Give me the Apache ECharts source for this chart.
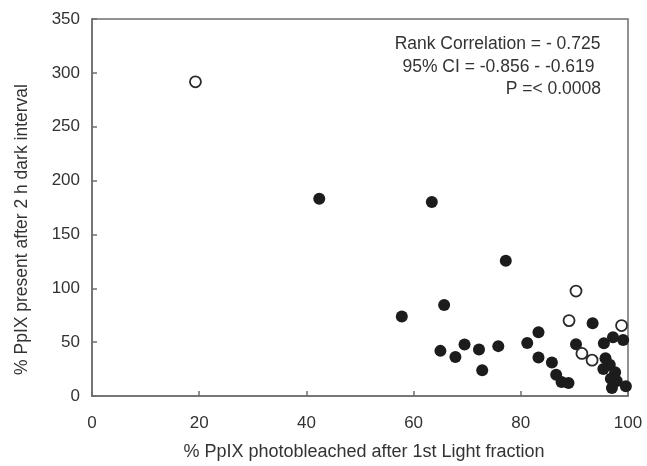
<!DOCTYPE html>
<html>
<head>
<meta charset="utf-8">
<script src="https://cdn.jsdelivr.net/npm/echarts@6/dist/echarts.min.js"></script>
<style>html,body{margin:0;padding:0;background:#fff}#c{width:647px;height:466px}</style>
</head>
<body>
<div id="c"></div>
<script>
const xTicksMax = 100;
const yTicksMax = 350;
const filledX = [42.4, 63.4, 77.2, 57.8, 65.7, 65.0, 67.8, 69.5, 72.2, 72.8, 75.8, 81.2, 83.3, 83.3, 85.8, 86.6, 87.6, 88.9, 90.3, 93.4,
  95.5, 97.2, 99.1, 95.8, 96.6, 95.4, 97.6, 96.8, 97.9, 97.0, 99.6];
const filledY = [183.2, 180.1, 125.5, 73.7, 84.5, 41.9, 36.1, 47.8, 43.2, 23.8, 46.3, 49.3, 59.2, 35.8, 31.2, 19.7, 13.0, 12.0, 48.1, 67.5,
  49.0, 54.5, 52.0, 35.0, 29.0, 25.0, 22.0, 16.0, 14.0, 7.5, 9.0];
const openX = [19.3, 90.3, 89.0, 98.8, 91.4, 93.3];
const openY = [291.7, 97.4, 70.0, 65.4, 39.5, 33.3];
const annotation = ["Rank Correlation = - 0.725", "95% CI = -0.856 - -0.619", "P =< 0.0008"];

const zip = (a, b) => a.map((v, i) => [v, b[i]]);
const font = "'Liberation Sans', Arial, sans-serif";
const chart = echarts.init(document.getElementById('c'));
chart.setOption({
  animation: false,
  backgroundColor: '#fff',
  grid: { left: 92, right: 19, top: 19, bottom: 68, show: true, borderColor: '#6e6e6e', borderWidth: 1.5, backgroundColor: 'transparent' },
  xAxis: {
    type: 'value', min: 0, max: xTicksMax, interval: 20,
    name: '% PpIX photobleached after 1st Light fraction', nameLocation: 'middle', nameGap: 47,
    nameTextStyle: { fontFamily: font, fontSize: 18, color: '#333', padding: [0, 0, 0, 8] },
    axisLine: { show: true, lineStyle: { color: '#6e6e6e', width: 1.5 } },
    axisTick: { show: true, inside: true, length: 5, lineStyle: { color: '#6e6e6e', width: 1.5 } },
    axisLabel: { fontFamily: font, fontSize: 17, color: '#333', margin: 19 },
    splitLine: { show: false }
  },
  yAxis: {
    type: 'value', min: 0, max: yTicksMax, interval: 50,
    name: '% PpIX present after 2 h dark interval', nameLocation: 'middle', nameGap: 61,
    nameTextStyle: { fontFamily: font, fontSize: 17.5, color: '#333', padding: [0, 44, 0, 0] },
    axisLine: { show: true, lineStyle: { color: '#6e6e6e', width: 1.5 } },
    axisTick: { show: true, inside: true, length: 5, lineStyle: { color: '#6e6e6e', width: 1.5 } },
    axisLabel: { fontFamily: font, fontSize: 17, color: '#333', margin: 12 },
    splitLine: { show: false }
  },
  series: [
    { type: 'scatter', data: zip(filledX, filledY), symbolSize: 12,
      itemStyle: { color: '#1c1c1c', opacity: 1 } },
    { type: 'scatter', data: zip(openX, openY), symbolSize: 11,
      itemStyle: { color: '#fff', borderColor: '#2a2a2a', borderWidth: 1.8, opacity: 1 } }
  ],
  graphic: [
    { type: 'text', x: 497.5, y: 44, style: { text: annotation[0], align: 'center', verticalAlign: 'middle', font: '17.5px ' + font, fill: '#333' } },
    { type: 'text', x: 498.5, y: 67, style: { text: annotation[1], align: 'center', verticalAlign: 'middle', font: '17.5px ' + font, fill: '#333' } },
    { type: 'text', x: 601, y: 89, style: { text: annotation[2], align: 'right', verticalAlign: 'middle', font: '17.5px ' + font, fill: '#333' } }
  ]
});
</script>
</body>
</html>
